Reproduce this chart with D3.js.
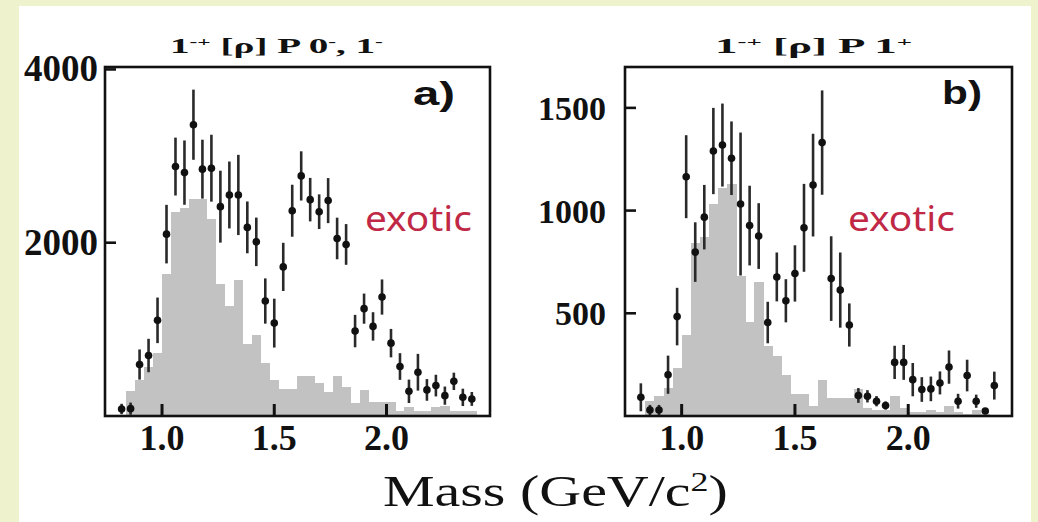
<!DOCTYPE html>
<html><head><meta charset="utf-8">
<script src="https://cdn.jsdelivr.net/npm/d3@7"></script>
<style>html,body{margin:0;padding:0;background:#eff3cd;} svg{display:block}</style>
</head><body>
<svg id="chart" width="1038" height="522"></svg>
<script>
// ---- data ----
const mass = [0.82,0.86,0.90,0.94,0.98,1.02,1.06,1.10,1.14,1.18,1.22,1.26,1.30,1.34,1.38,1.42,1.46,1.50,1.54,1.58,
              1.62,1.66,1.70,1.74,1.78,1.82,1.86,1.90,1.94,1.98,2.02,2.06,2.10,2.14,2.18,2.22,2.26,2.30,2.34,2.38];
const dataA = [81,85,594,698,1104,2099,2879,2809,3362,2849,2860,2416,2551,2551,2177,2010,1327,1072,1721,2369,
               2771,2497,2358,2486,2049,1980,980,1239,1034,1373,841,571,285,505,301,351,235,400,215,197];
const errA  = [60,70,174,193,263,338,334,371,405,340,386,415,386,463,299,280,261,282,278,300,
               284,251,200,260,240,235,187,174,164,203,164,154,135,212,125,125,105,100,100,80];
const bkgA  = [0,290,420,560,730,1640,2350,2400,2500,2500,2270,1520,1270,1570,835,930,610,420,315,315,
               460,460,380,280,460,330,150,300,160,160,160,60,100,60,60,100,110,60,60,60];
const dataB = [91,29,29,201,484,1165,798,968,1290,1319,1255,1032,927,876,455,677,561,694,916,1124,
               1331,669,613,443,100,96,72,51,261,261,177,129,132,161,238,72,197,72,24,148];
const errB  = [68,25,25,93,140,202,145,157,210,202,179,348,194,160,101,119,105,137,214,250,
               254,206,183,105,36,30,25,20,81,85,81,60,60,56,81,36,77,32,15,68];
const bkgB  = [0,72,96,137,234,395,840,870,1030,1110,1130,680,460,650,340,290,200,105,105,50,
               175,90,90,90,130,40,30,30,96,40,20,20,30,20,48,20,10,30,10,0];
const xTicks = [1.0, 1.5, 2.0];
const yTicksA = [2000, 4000];
const yTicksB = [500, 1000, 1500];
const titleA = [["1",0],["-+",1],[" [ρ] P  0",0],["-",1],[", 1",0],["-",1]];
const titleB = [["1",0],["-+",1],[" [ρ] P  1",0],["+",1]];
const tagA = "a)", tagB = "b)";
const noteText = "exotic";
const xTitle = [["Mass  (GeV/c",0],["2",1],[")",0]];

// ---- layout ----
const svg = d3.select("#chart");
const SERIF = "'Liberation Serif','Times New Roman',serif";
const SANS = "'Liberation Sans',Arial,sans-serif";
const halfBin = 0.02;

svg.append("rect").attr("x",0).attr("y",0).attr("width",1038).attr("height",522).attr("fill","#eff3cd");
svg.append("rect").attr("x",19).attr("y",6).attr("width",1012).attr("height",516).attr("fill","#ffffff");

function fitText(g, parts, left, baseline, width, opts) {
  const t = g.append("text").attr("x",0).attr("y",0)
    .attr("font-family",opts.family).attr("font-size",opts.size)
    .attr("font-weight",opts.weight||"normal").attr("fill",opts.fill||"#111");
  parts.forEach(([s,sup]) => {
    const ts = t.append("tspan").text(s);
    if (sup) ts.attr("baseline-shift","super").attr("font-size", opts.size*(opts.supScale||0.6));
  });
  const w = t.node().getBBox().width;
  const sx = width / w;
  t.attr("transform",`translate(${left},${baseline}) scale(${sx},1)`);
  return t;
}

const panels = [
  {x0:105, x1:490, y0:67, y1:416, xDom:[0.746,2.461], yMax:4028, data:dataA, err:errA, bkg:bkgA, yTicks:yTicksA,
   title:titleA, titleL:170, titleW:213, tag:tagA, tagL:413, tagW:42, tagY:105, noteL:365, noteW:107,
   ylabRight:98, ylabSize:37},
  {x0:625, x1:1012, y0:67, y1:416, xDom:[0.750,2.458], yMax:1699, data:dataB, err:errB, bkg:bkgB, yTicks:yTicksB,
   title:titleB, titleL:715, titleW:197, tag:tagB, tagL:942, tagW:40, tagY:104, noteL:848, noteW:107,
   ylabRight:606, ylabSize:34}
];

panels.forEach(p => {
  const x = d3.scaleLinear().domain(p.xDom).range([p.x0, p.x1]);
  const y = d3.scaleLinear().domain([0, p.yMax]).range([p.y1, p.y0]);
  const g = svg.append("g");

  // background histogram
  g.append("g").selectAll("rect").data(mass).join("rect")
    .attr("x", (m) => x(m - halfBin))
    .attr("width", (m) => x(m + halfBin) - x(m - halfBin) + 0.5)
    .attr("y", (m,i) => y(p.bkg[i]))
    .attr("height", (m,i) => y(0) - y(p.bkg[i]))
    .attr("fill","#c2c2c2").attr("shape-rendering","crispEdges");

  // error bars
  g.append("g").selectAll("line").data(mass).join("line")
    .attr("x1", m => x(m)).attr("x2", m => x(m))
    .attr("y1", (m,i) => y(Math.max(0, p.data[i]-p.err[i])))
    .attr("y2", (m,i) => y(p.data[i]+p.err[i]))
    .attr("stroke","#2a2a2a").attr("stroke-width",2.6);

  // points
  g.append("g").selectAll("circle").data(mass).join("circle")
    .attr("cx", m => x(m)).attr("cy", (m,i) => y(p.data[i]))
    .attr("r",3.8).attr("fill","#111");

  // frame
  g.append("rect").attr("x",p.x0).attr("y",p.y0).attr("width",p.x1-p.x0).attr("height",p.y1-p.y0)
    .attr("fill","none").attr("stroke","#111").attr("stroke-width",2.6);

  // x ticks (inside) + labels
  xTicks.forEach(v => {
    g.append("line").attr("x1",x(v)).attr("x2",x(v)).attr("y1",p.y1).attr("y2",p.y1-12)
      .attr("stroke","#111").attr("stroke-width",3);
    g.append("text").attr("x",x(v)).attr("y",450).attr("text-anchor","middle")
      .attr("font-family",SERIF).attr("font-weight","bold").attr("font-size",36).attr("fill","#111")
      .text(v.toFixed(1));
  });
  // y ticks (inside) + labels
  p.yTicks.forEach(v => {
    g.append("line").attr("x1",p.x0).attr("x2",p.x0+11).attr("y1",y(v)).attr("y2",y(v))
      .attr("stroke","#111").attr("stroke-width",2.6);
    g.append("text").attr("x",p.ylabRight).attr("y",y(v)+12).attr("text-anchor","end")
      .attr("font-family",SERIF).attr("font-weight","bold").attr("font-size",p.ylabSize).attr("fill","#111")
      .text(v);
  });

  fitText(g, p.title, p.titleL, 53, p.titleW, {family:SERIF, size:22, weight:"bold", supScale:0.6});
  fitText(g, [[p.tag,0]], p.tagL, p.tagY, p.tagW, {family:SANS, size:33, weight:"bold"});
  fitText(g, [[noteText,0]], p.noteL, 231, p.noteW, {family:"'Noto Sans','DejaVu Sans',sans-serif", size:34, fill:"#c02845"});
});

fitText(svg, xTitle, 383, 506, 345, {family:SERIF, size:44, weight:"normal", supScale:0.62});
</script>
</body></html>
